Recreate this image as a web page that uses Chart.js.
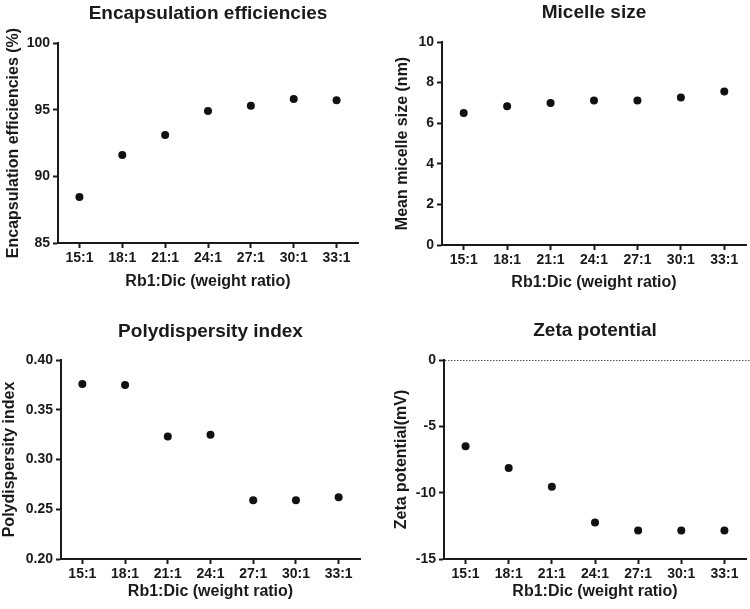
<!DOCTYPE html>
<html>
<head>
<meta charset="utf-8">
<script src="https://cdn.jsdelivr.net/npm/chart.js@4.4.1/dist/chart.umd.min.js"></script>
<style>
  body { margin: 0; background: #fff; }
  .panel { position: absolute; }
</style>
</head>
<body>
<div class="panel" style="left:0;top:0"><canvas id="eeChart" width="375" height="300"></canvas></div>
<div class="panel" style="left:375px;top:0"><canvas id="sizeChart" width="375" height="300"></canvas></div>
<div class="panel" style="left:0;top:300px"><canvas id="pdiChart" width="375" height="309"></canvas></div>
<div class="panel" style="left:375px;top:300px"><canvas id="zetaChart" width="375" height="309"></canvas></div>
<script>
// DATA
const ratios = ['15:1', '18:1', '21:1', '24:1', '27:1', '30:1', '33:1'];
const encapsulation = [88.45, 91.6, 93.1, 94.9, 95.3, 95.8, 95.7];
const micelleSize = [6.5, 6.83, 7.0, 7.12, 7.12, 7.26, 7.56];
const polydispersity = [0.376, 0.375, 0.323, 0.325, 0.259, 0.259, 0.262];
const zetaPotential = [-6.5, -8.15, -9.55, -12.25, -12.85, -12.85, -12.85];

const FONT = '"Liberation Sans", Arial, sans-serif';
const INK = '#1a1a1a';
const TITLE_LH = 19 * 1.2;

// dotted reference line at y = 0 (zeta panel)
const zeroLine = {
    id: 'zeroLine',
    afterDatasetsDraw(chart) {
        const y = chart.scales.y.getPixelForValue(0);
        const ctx = chart.ctx;
        ctx.save();
        ctx.strokeStyle = '#555';
        ctx.lineWidth = 1;
        ctx.setLineDash([1.5, 1.5]);
        ctx.beginPath();
        ctx.moveTo(chart.chartArea.left + 1, y + 0.5);
        ctx.lineTo(chart.chartArea.right + 4, y + 0.5);
        ctx.stroke();
        ctx.restore();
    }
};

const makeChart = (id, cfg) => {
    return new Chart(document.getElementById(id), {
        type: 'line',
        data: {
            labels: ratios,
            datasets: [{
                data: cfg.values,
                showLine: false,
                pointRadius: 4,
                pointHoverRadius: 4,
                pointBackgroundColor: '#111',
                pointBorderColor: '#111',
                borderWidth: 0
            }]
        },
        options: {
            responsive: false,
            animation: false,
            events: [],
            layout: {
                autoPadding: false,
                padding: { left: 0, right: cfg.padRight, top: 0, bottom: 0 }
            },
            plugins: {
                legend: { display: false },
                tooltip: { enabled: false },
                title: {
                    display: true,
                    text: cfg.title,
                    color: INK,
                    fullSize: false,
                    font: { family: FONT, size: 19, weight: 'bold', lineHeight: 1.2 },
                    padding: { top: cfg.titleTop, bottom: cfg.top - cfg.titleTop - TITLE_LH }
                }
            },
            scales: {
                x: {
                    type: 'category',
                    offset: true,
                    afterFit: s => { s.height = cfg.xHeight; },
                    grid: {
                        offset: false,
                        drawOnChartArea: false,
                        drawTicks: true,
                        tickLength: 5,
                        tickWidth: 2,
                        tickColor: INK
                    },
                    border: { display: true, color: INK, width: 2 },
                    ticks: {
                        color: INK,
                        padding: 2,
                        maxRotation: 0,
                        font: { family: FONT, size: 14, weight: 'bold' }
                    },
                    title: {
                        display: true,
                        text: 'Rb1:Dic (weight ratio)',
                        color: INK,
                        font: { family: FONT, size: 16, weight: 'bold', lineHeight: 1.2 },
                        padding: { top: 0, bottom: cfg.xTitleBottom }
                    }
                },
                y: {
                    min: cfg.min,
                    max: cfg.max,
                    afterFit: s => { s.width = cfg.left; },
                    grid: {
                        drawOnChartArea: false,
                        drawTicks: true,
                        tickLength: 5,
                        tickWidth: 2,
                        tickColor: INK
                    },
                    border: { display: true, color: INK, width: 2 },
                    ticks: {
                        stepSize: cfg.step,
                        color: INK,
                        padding: 3,
                        font: { family: FONT, size: 14, weight: 'bold' },
                        callback: v => cfg.decimals ? v.toFixed(cfg.decimals) : v
                    },
                    title: {
                        display: true,
                        text: cfg.yTitle,
                        color: INK,
                        font: { family: FONT, size: 16, weight: 'bold', lineHeight: 1.2 },
                        padding: { top: cfg.yTitleTop, bottom: 0 }
                    }
                }
            }
        },
        plugins: cfg.extra || []
    });
};

makeChart('eeChart', {
    values: encapsulation, title: 'Encapsulation efficiencies',
    yTitle: 'Encapsulation efficiencies (%)',
    min: 85, max: 100, step: 5,
    left: 58, padRight: 17, top: 43, titleTop: 2.6, xHeight: 57,
    xTitleBottom: 9, yTitleTop: 4.4
});

makeChart('sizeChart', {
    values: micelleSize, title: 'Micelle size',
    yTitle: 'Mean micelle size (nm)',
    min: 0, max: 10, step: 2,
    left: 67, padRight: 4, top: 42, titleTop: 1, xHeight: 55,
    xTitleBottom: 7.4, yTitleTop: 18.4
});

makeChart('pdiChart', {
    values: polydispersity, title: 'Polydispersity index',
    yTitle: 'Polydispersity index',
    min: 0.2, max: 0.4, step: 0.05, decimals: 2,
    left: 61, padRight: 15, top: 60, titleTop: 20, xHeight: 50,
    xTitleBottom: 8, yTitleTop: 0.4
});

makeChart('zetaChart', {
    values: zetaPotential, title: 'Zeta potential',
    yTitle: 'Zeta potential(mV)',
    min: -15, max: 0, step: 5,
    left: 69, padRight: 4, top: 60, titleTop: 19, xHeight: 50,
    xTitleBottom: 8, yTitleTop: 17.4,
    extra: [zeroLine]
});
</script>
</body>
</html>
